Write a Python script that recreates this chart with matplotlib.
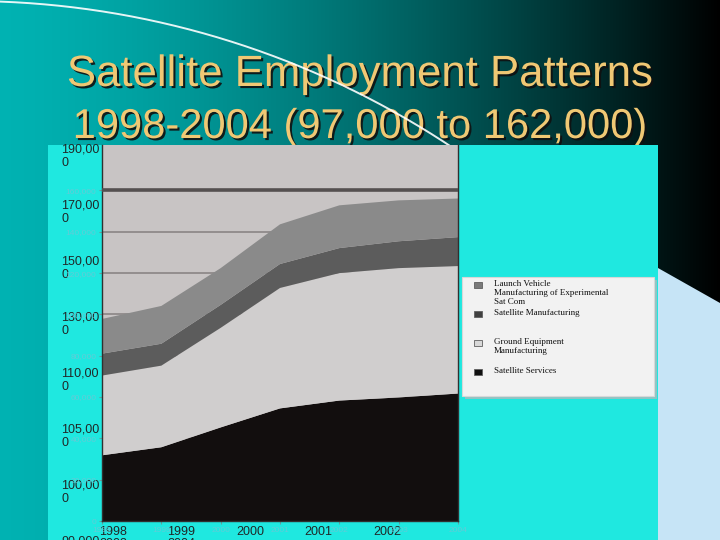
import numpy as np
import matplotlib
matplotlib.use("Agg")
import matplotlib.pyplot as plt
import matplotlib.patheffects as pe
from matplotlib.patches import Rectangle, Polygon

# employment, thousands of jobs
years = [1998, 1999, 2000, 2001, 2002, 2003, 2004]
services = [31.8, 35.7, 45.3, 54.5, 58.3, 59.8, 61.7]
ground = [38.6, 39.5, 48.2, 58.3, 61.7, 62.6, 61.7]
sat_mfg = [10.6, 10.6, 11.1, 11.6, 12.1, 13.0, 14.0]
launch = [16.8, 18.3, 17.8, 19.2, 20.7, 19.8, 18.7]

series_colors = ["#120e0e", "#d0cece", "#5c5c5c", "#8a8a8a"]
legend_labels = ["Launch Vehicle\nManufacturing of Experimental\nSat Com",
                 "Satellite Manufacturing",
                 "Ground Equipment\nManufacturing",
                 "Satellite Services"]
legend_colors = ["#7a7a7a", "#404040", "#d8d8d8", "#101010"]

grid_values = [0, 20, 40, 60, 80, 100, 120, 140, 160]
pasted_y_labels = ["190,00\n0", "170,00\n0", "150,00\n0", "130,00\n0",
                   "110,00\n0", "105,00\n0", "100,00\n0", "90,000"]
pasted_x_labels = ["1998\n2003", "1999\n2004", "2000", "2001", "2002"]

title_1 = "Satellite Employment Patterns"
title_2 = "1998-2004 (97,000 to 162,000)"

W, H = 720, 540
fig = plt.figure(figsize=(7.2, 5.4), dpi=100)

# --- slide background (pixel coordinates) ---
bg = fig.add_axes([0, 0, 1, 1], zorder=0)
bg.set_xlim(0, W)
bg.set_ylim(H, 0)
bg.axis("off")
f = 1 - np.linspace(0, 1, W) ** 1.4
grad = np.zeros((2, W, 3))
grad[:, :, 1] = 0.70 * f
grad[:, :, 2] = 0.70 * f
bg.imshow(grad, extent=(0, W, H, 0), aspect="auto", zorder=0)

shadow = [pe.SimplePatchShadow(offset=(1.5, -1.5), shadow_rgbFace="#101010", alpha=0.9),
          pe.Normal()]
bg.text(W / 2, 86, title_1, ha="center", va="baseline", fontsize=31.5,
        family="Liberation Sans", color="#f0c874", zorder=2, path_effects=shadow)
bg.text(W / 2, 138, title_2, ha="center", va="baseline", fontsize=30,
        family="Liberation Sans", color="#f0c874", zorder=2, path_effects=shadow)

# decorative arc of the slide template
theta = np.linspace(np.arcsin(32 / 874), np.arcsin(490 / 874), 200)
bg.plot(-32 + 874 * np.sin(theta), 875 - 874 * np.cos(theta),
        color="white", lw=1.4, alpha=0.9, zorder=3)

bg.add_patch(Rectangle((48, 145), 610, 400, fc="#1fe8e0", ec="none", zorder=4))
bg.add_patch(Polygon([(658, 268), (720, 303), (720, 545), (658, 545)],
                     closed=True, fc="#c6e4f6", ec="none", zorder=4))

# pasted y labels
for i, lab in enumerate(pasted_y_labels):
    bg.text(61, 144 + 56 * i, lab, ha="left", va="top", fontsize=9,
            family="Liberation Sans", color="#202828", linespacing=1.15, zorder=6)

# pasted x labels
for i, lab in enumerate(pasted_x_labels):
    bg.text(113 + 68.5 * i, 526, lab, ha="center", va="top", fontsize=9,
            family="Liberation Sans", color="#202828", linespacing=0.95, zorder=6)

# legend box
bg.add_patch(Rectangle((465, 280), 192, 119, fc="#8fc4c4", ec="none", zorder=5))
bg.add_patch(Rectangle((462, 277), 192, 119, fc="#f2f2f2", ec="#d8d8d8", lw=0.8, zorder=5))
for i, (lab, col) in enumerate(zip(legend_labels, legend_colors)):
    yy = 285 + 29 * i
    bg.add_patch(Rectangle((474, yy - 3), 8, 6, fc=col, ec="#606060", lw=0.6, zorder=6))
    bg.text(494, yy - 5, lab, ha="left", va="top", fontsize=6.5,
            family="Liberation Serif", color="#101010", linespacing=1.15, zorder=6)

# --- the chart itself ---
ax = fig.add_axes([102 / W, (H - 521) / H, 356 / W, 376 / H], zorder=1)
ax.set_facecolor("#c8c4c4")
ax.stackplot(years, services, ground, sat_mfg, launch, colors=series_colors,
             lw=0, zorder=2)
ax.set_xlim(years[0], years[-1])
ax.set_ylim(0, 182)
ax.set_yticks(grid_values)
ax.set_yticklabels([f"{v * 1000:,}" for v in grid_values], fontsize=6,
                   color="#62ccd6", family="Liberation Sans")
ax.set_xticks(years)
ax.set_xticklabels([str(y) for y in years], fontsize=6, color="#62ccd6",
                   family="Liberation Sans")
ax.tick_params(length=2, color="#60a0a0", pad=2)
ax.set_axisbelow(True)
ax.yaxis.grid(True, color="#8a8585", lw=1.2)
ax.axhline(160, color="#555050", lw=2.6, zorder=3)
ax.spines["top"].set_visible(False)
for side in ["left", "right", "bottom"]:
    ax.spines[side].set_color("#303030")
    ax.spines[side].set_linewidth(1)

fig.savefig("out.png", dpi=100)
